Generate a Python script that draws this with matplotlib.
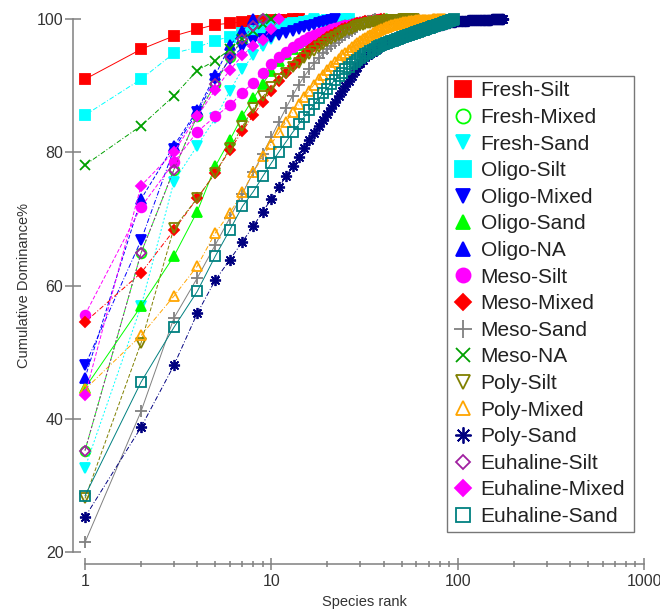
import numpy as np
import matplotlib
matplotlib.use('Agg')
import matplotlib.pyplot as plt
from matplotlib.lines import Line2D

plt.rcParams['font.family'] = ['Liberation Sans', 'DejaVu Sans']

# cumulative dominance (%) at species rank 1, 2, 3, ... for each group
fresh_silt = [91.0, 95.5, 97.5, 98.5, 99.2, 99.4, 99.6, 99.7, 99.8, 99.85, 99.9, 99.95, 100.0, 100.0]
fresh_mixed = [35.2, 64.9, 77.4, 85.5, 90.3, 94.3, 97.0, 99.0, 100.0]
fresh_sand = [32.6, 56.9, 75.6, 81.0, 85.1, 89.3, 92.5, 94.6, 96.0, 97.0, 97.8, 98.4, 98.9, 99.3,
              99.6, 99.8, 100.0]
oligo_silt = [85.6, 91.0, 94.9, 95.8, 96.8, 97.4, 97.9, 98.3, 98.6, 98.9, 99.1, 99.3, 99.4, 99.5,
              99.6, 99.65, 99.7, 99.75, 99.8, 99.85, 99.88, 99.91, 99.94, 99.96, 99.98, 100.0]
oligo_mixed = [48.0, 66.8, 80.5, 86.0, 91.0, 94.0, 95.8, 96.7, 97.1, 97.4, 97.7, 98.0, 98.3, 98.6,
               98.8, 99.0, 99.2, 99.4, 99.6, 99.8, 99.9, 100.0]
oligo_sand = [44.6, 56.9, 64.4, 71.1, 77.9, 81.9, 85.5, 88.1, 90.3, 92.2, 93.7, 94.8, 95.6, 96.2,
              96.7, 97.1, 97.4, 97.7, 98.0, 98.2, 98.4, 98.6, 98.8, 99.0, 99.1, 99.2, 99.3, 99.4,
              99.5, 99.6, 99.65, 99.7, 99.75, 99.8, 99.85, 99.88, 99.91, 99.94, 99.96, 99.98,
              99.99, 100.0]
oligo_na = [46.1, 73.0, 81.0, 86.3, 91.6, 96.1, 98.3, 100.0]
meso_silt = [55.6, 71.8, 78.5, 83.1, 85.4, 87.1, 89.0, 90.5, 92.0, 93.3, 94.3, 95.1, 95.8, 96.4,
             96.9, 97.3, 97.6, 97.9, 98.1, 98.3, 98.5, 98.7, 98.9, 99.0, 99.1, 99.2, 99.3, 99.4,
             99.5, 99.6, 99.65, 99.7, 99.75, 99.8, 99.85, 99.9, 99.95, 100.0]
meso_mixed = [54.5, 61.9, 68.3, 73.1, 76.9, 80.4, 83.2, 85.6, 87.6, 89.3, 90.8, 92.0, 93.0, 93.9,
              94.7, 95.4, 96.0, 96.5, 96.9, 97.3, 97.7, 98.0, 98.3, 98.5, 98.7, 98.9, 99.1, 99.25,
              99.4, 99.5, 99.6, 99.7, 99.75, 99.8, 99.85, 99.9, 99.93, 99.96, 99.98, 100.0]
meso_sand = [21.4, 41.1, 55.1, 61.1, 66.1, 70.2, 73.8, 77.0, 79.8, 82.3, 84.6, 86.7, 88.5, 90.1,
             91.4, 92.5, 93.4, 94.2, 94.9, 95.5, 96.0, 96.5, 96.9, 97.3, 97.7, 98.0, 98.3, 98.6,
             98.9, 99.1, 99.3, 99.5, 99.7, 99.8, 99.9, 100.0]
meso_na = [78.1, 84.0, 88.5, 92.3, 93.8, 95.5, 97.0, 98.3, 99.3, 100.0]
poly_silt = [28.0, 51.4, 68.6, 73.1, 76.9, 80.6, 83.9, 86.6, 88.4, 89.8,
             91.0, 92.0, 92.8, 93.5, 94.2, 94.8, 95.3, 95.8, 96.3, 96.7,
             97.05, 97.4, 97.7, 97.95, 98.2, 98.4, 98.6, 98.8, 98.95, 99.1,
             99.2, 99.3, 99.4, 99.5, 99.55, 99.6, 99.65, 99.7, 99.74, 99.78,
             99.81, 99.84, 99.86, 99.88, 99.9, 99.92, 99.93, 99.94, 99.95, 99.96,
             99.97, 99.98, 99.98, 99.99, 99.99, 100.0, 100.0, 100.0]
poly_mixed = [44.4, 52.5, 58.4, 62.9, 67.9, 70.9, 74.0, 77.0, 79.4, 81.3,
              83.0, 84.6, 86.0, 87.2, 88.3, 89.3, 90.2, 91.0, 91.7, 92.4,
              93.0, 93.6, 94.1, 94.6, 95.0, 95.4, 95.8, 96.1, 96.4, 96.7,
              97.0, 97.25, 97.5, 97.7, 97.9, 98.1, 98.25, 98.4, 98.55, 98.7,
              98.8, 98.9, 99.0, 99.08, 99.16, 99.24, 99.3, 99.36, 99.42, 99.48,
              99.53, 99.58, 99.62, 99.66, 99.7, 99.73, 99.76, 99.79, 99.81, 99.83,
              99.85, 99.87, 99.88, 99.89, 99.9, 99.91, 99.92, 99.93, 99.94, 99.95,
              99.95, 99.96, 99.96, 99.97, 99.97, 99.98, 99.98, 99.98, 99.99, 99.99,
              99.99, 100.0, 100.0, 100.0, 100.0]
poly_sand = [25.2, 38.7, 48.0, 55.8, 60.8, 63.9, 66.6, 68.9, 71.1, 73.0,
             74.8, 76.4, 77.9, 79.3, 80.6, 81.8, 82.9, 83.9, 84.8, 85.7,
             86.6, 87.5, 88.4, 89.2, 90.0, 90.8, 91.5, 92.2, 92.8, 93.4,
             93.9, 94.3, 94.6, 94.9, 95.15, 95.4, 95.6, 95.8, 95.95, 96.1,
             96.25, 96.38, 96.5, 96.6, 96.7, 96.8, 96.9, 97.0, 97.1, 97.2,
             97.28, 97.36, 97.44, 97.52, 97.6, 97.67, 97.74, 97.81, 97.88, 97.95,
             98.02, 98.09, 98.16, 98.23, 98.3, 98.36, 98.42, 98.48, 98.54, 98.6,
             98.66, 98.72, 98.78, 98.83, 98.88, 98.93, 98.98, 99.03, 99.08, 99.12,
             99.16, 99.2, 99.24, 99.28, 99.32, 99.36, 99.4, 99.43, 99.46, 99.49,
             99.52, 99.55, 99.57, 99.59, 99.61, 99.63, 99.65, 99.67, 99.68, 99.69,
             99.7, 99.71, 99.72, 99.73, 99.74, 99.75, 99.76, 99.77, 99.78, 99.79,
             99.8, 99.81, 99.81, 99.82, 99.82, 99.83, 99.83, 99.84, 99.84, 99.85,
             99.85, 99.86, 99.86, 99.87, 99.87, 99.88, 99.88, 99.89, 99.89, 99.9,
             99.9, 99.9, 99.91, 99.91, 99.91, 99.92, 99.92, 99.92, 99.93, 99.93,
             99.93, 99.94, 99.94, 99.94, 99.95, 99.95, 99.95, 99.96, 99.96, 99.96,
             99.96, 99.97, 99.97, 99.97, 99.97, 99.98, 99.98, 99.98, 99.98, 99.98,
             99.99, 99.99, 99.99, 99.99, 99.99, 99.99, 99.99, 100.0, 100.0, 100.0,
             100.0, 100.0, 100.0, 100.0, 100.0, 100.0]
euhaline_silt = [35.2, 64.9, 77.4, 85.5, 90.3, 94.3, 97.0, 99.0, 100.0]
euhaline_mixed = [43.5, 75.0, 80.1, 85.4, 89.4, 92.4, 94.6, 96.0, 96.9, 98.6, 100.0]
euhaline_sand = [28.4, 45.5, 53.7, 59.1, 64.4, 68.4, 71.9, 74.1, 76.4, 78.4,
                 80.1, 81.6, 83.0, 84.2, 85.3, 86.3, 87.2, 88.1, 88.9, 89.6,
                 90.3, 90.9, 91.5, 92.0, 92.5, 92.9, 93.3, 93.6, 93.9, 94.2,
                 94.5, 94.75, 95.0, 95.2, 95.4, 95.6, 95.8, 95.95, 96.1, 96.25,
                 96.4, 96.5, 96.6, 96.7, 96.8, 96.9, 97.0, 97.1, 97.2, 97.3,
                 97.38, 97.46, 97.54, 97.62, 97.7, 97.77, 97.84, 97.91, 97.98, 98.05,
                 98.12, 98.19, 98.26, 98.33, 98.4, 98.46, 98.52, 98.58, 98.64, 98.7,
                 98.76, 98.82, 98.88, 98.93, 98.98, 99.03, 99.08, 99.13, 99.18, 99.23,
                 99.28, 99.33, 99.38, 99.43, 99.48, 99.53, 99.58, 99.63, 99.68, 99.73,
                 99.79, 99.85, 99.9, 99.95, 100.0]

labels = ['Fresh-Silt', 'Fresh-Mixed', 'Fresh-Sand', 'Oligo-Silt', 'Oligo-Mixed', 'Oligo-Sand',
          'Oligo-NA', 'Meso-Silt', 'Meso-Mixed', 'Meso-Sand', 'Meso-NA', 'Poly-Silt',
          'Poly-Mixed', 'Poly-Sand', 'Euhaline-Silt', 'Euhaline-Mixed', 'Euhaline-Sand']
series = [fresh_silt, fresh_mixed, fresh_sand, oligo_silt, oligo_mixed, oligo_sand, oligo_na,
          meso_silt, meso_mixed, meso_sand, meso_na, poly_silt, poly_mixed, poly_sand,
          euhaline_silt, euhaline_mixed, euhaline_sand]

# styles: colour, marker, filled, markersize, line style
dash = (0, (4, 2))
dot = (0, (2, 2))
dashdot = (0, (5, 2, 1, 2))
styles = [('#ff0000', 's', True, 7.5, '-'),
          ('#00ff00', 'o', False, 7, dash),
          ('#00ffff', 'v', True, 7, dot),
          ('#00ffff', 's', True, 7.5, dashdot),
          ('#0000ff', 'v', True, 7, dashdot),
          ('#00ff00', '^', True, 7, '-'),
          ('#0000ff', '^', True, 7, dash),
          ('#ff00ff', 'o', True, 7, dash),
          ('#ff0000', 'D', True, 5.5, dashdot),
          ('#808080', '+', False, 9, '-'),
          ('#00a000', 'x', False, 6.5, dashdot),
          ('#808000', 'v', False, 7, dash),
          ('#ffa500', '^', False, 7, dashdot),
          ('#000080', (8, 2, 0), False, 8, dashdot),
          ('#a020a0', 'D', False, 5, dot),
          ('#ff00ff', 'D', True, 5.5, dash),
          ('#008080', 's', False, 6.5, '-')]

fig = plt.figure(figsize=(6.6, 6.11), dpi=100)
ax = fig.add_axes([85/660, 1 - 551.7/611, 559/660, 532.4/611])

handles = []
for vals, lab, (col, mk, filled, ms, ls) in zip(series, labels, styles):
    rank = np.arange(1, len(vals) + 1)
    fc = col if filled else 'none'
    ax.plot(rank, vals, color=col, lw=0.7, ls=ls, marker=mk, ms=ms, mfc=fc, mec=col,
            mew=1.3, clip_on=False)
    handles.append(Line2D([], [], ls='none', marker=mk, ms=ms, mfc=fc, mec=col, mew=1.3,
                          color=col))

ax.set_xscale('log')
ax.set_xlim(1, 1000)
ax.set_ylim(20, 100)
ax.set_yticks([20, 40, 60, 80, 100])
ax.set_xticks([1, 10, 100, 1000])
ax.set_xticklabels(['1', '10', '100', '1000'])

axcol = '#808080'
for s in ['top', 'right']:
    ax.spines[s].set_visible(False)
for s in ['left', 'bottom']:
    ax.spines[s].set_position(('outward', 9))
    ax.spines[s].set_color(axcol)
    ax.spines[s].set_linewidth(1.1)
ax.spines['left'].set_bounds(20, 100)
ax.spines['bottom'].set_bounds(1, 1000)

ax.tick_params(axis='y', which='major', direction='inout', length=11, width=1.1,
               color=axcol, labelsize=11.5, labelcolor='#333333', pad=1)
ax.tick_params(axis='x', which='major', direction='inout', length=8.5, width=1.1,
               color=axcol, labelsize=11.5, labelcolor='#333333', pad=3)
ax.tick_params(axis='x', which='minor', direction='inout', length=5, width=1.1,
               color=axcol)

ax.set_ylabel('Cumulative Dominance%', fontsize=10.5, color='#333333', labelpad=4)
ax.set_xlabel('Species rank', fontsize=10.5, color='#333333', labelpad=4)

leg = ax.legend(handles, labels, loc='upper left', mode='expand',
                bbox_to_anchor=(447/660, 1 - 76/611, 187/660, 0),
                bbox_transform=fig.transFigure, borderaxespad=0, fontsize=15,
                markerscale=1.45, handlelength=1.0, handletextpad=0.35,
                borderpad=0.26, labelspacing=0.365, frameon=True, fancybox=False)
leg.get_frame().set_edgecolor('#555555')
leg.get_frame().set_linewidth(1.0)
for t in leg.get_texts():
    t.set_color('#222222')

fig.savefig('out.png', dpi=100)
